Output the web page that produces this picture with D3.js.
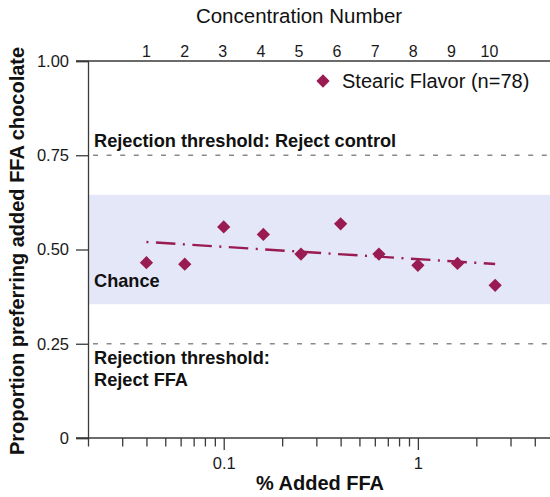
<!DOCTYPE html>
<html>
<head>
<meta charset="utf-8">
<script src="https://cdn.jsdelivr.net/npm/d3@7"></script>
<style>
  body { margin: 0; background: #fff; }
  svg { display: block; font-family: "Liberation Sans", Arial, Helvetica, sans-serif; }
  .axis path, .axis line { stroke: #3a3a3a; stroke-width: 1.3; }
  .axis text { fill: #1a1a1a; }
  .note { font-weight: bold; font-size: 18.2px; fill: #111; }
</style>
</head>
<body>
<svg id="chart" width="550" height="497"></svg>
<script>
// concentration number -> % added FFA (log spaced)
var concNumbers = [1, 2, 3, 4, 5, 6, 7, 8, 9, 10];
var addedFFA = [0.04, 0.063, 0.1, 0.16, 0.25, 0.4, 0.63, 1, 1.6, 2.5];
var proportion = [0.465, 0.461, 0.560, 0.540, 0.488, 0.568, 0.488, 0.458, 0.463, 0.405];
var trendEnds = [[0.04, 0.520], [2.5, 0.4615]];
var chanceBand = [0.355, 0.645];
var thresholds = [0.75, 0.25];
var yTicks = [0, 0.25, 0.5, 0.75, 1];
var xMinorTicks = [0.02, 0.03, 0.04, 0.05, 0.06, 0.07, 0.08, 0.09,
                   0.1, 0.2, 0.3, 0.4, 0.5, 0.6, 0.7, 0.8, 0.9, 1, 2, 3, 4];
var xMajorTicks = [0.1, 1];
var seriesName = 'Stearic Flavor (n=78)';
var markColor = '#991b52';

var svg = d3.select('#chart'),
    plotLeft = 88, plotRight = 550, plotTop = 61, plotBottom = 438;

var x = d3.scaleLog().domain([0.02, 5]).range([plotLeft, 553.6]);
var y = d3.scaleLinear().domain([0, 1]).range([plotBottom, plotTop]);
var xTop = d3.scaleLinear().domain([1, 10]).range([146, 489]);

// chance band
svg.append('rect')
  .attr('x', plotLeft)
  .attr('y', y(chanceBand[1]))
  .attr('width', plotRight - plotLeft)
  .attr('height', y(chanceBand[0]) - y(chanceBand[1]))
  .attr('fill', '#e4e7f7');

// rejection thresholds
svg.selectAll('.threshold')
  .data(thresholds)
  .enter().append('line')
    .attr('class', 'threshold')
    .attr('x1', plotLeft + 5)
    .attr('x2', plotRight)
    .attr('y1', y)
    .attr('y2', y)
    .attr('stroke', '#8a8a8a')
    .attr('stroke-width', 1.6)
    .attr('stroke-dasharray', '5,8.6');

// left axis
var yAxis = svg.append('g')
  .attr('class', 'axis')
  .attr('transform', 'translate(' + plotLeft + ',0)')
  .call(d3.axisLeft(y)
    .tickValues(yTicks)
    .tickSize(12)
    .tickPadding(7)
    .tickFormat(function(d) { return d === 0 ? '0' : d3.format('.2f')(d); }));
yAxis.selectAll('text').style('font-size', '16.5px');

// bottom axis
var xAxis = svg.append('g')
  .attr('class', 'axis')
  .attr('transform', 'translate(0,' + plotBottom + ')')
  .call(d3.axisBottom(x)
    .tickValues(xMinorTicks)
    .tickSize(8.5)
    .tickPadding(8)
    .tickSizeOuter(0)
    .tickFormat(function(d) { return xMajorTicks.indexOf(d) >= 0 ? d3.format('~g')(d) : ''; }));
xAxis.selectAll('.tick')
  .filter(function(d) { return xMajorTicks.indexOf(d) >= 0; })
  .select('line').attr('y2', 12);
xAxis.selectAll('text').style('font-size', '16.5px').attr('dy', '0.85em');
xAxis.select('.domain').attr('d', 'M' + (plotLeft - 12) + ',0H' + plotRight);

// top axis (concentration number)
var topAxis = svg.append('g')
  .attr('class', 'axis')
  .attr('transform', 'translate(0,' + plotTop + ')')
  .call(d3.axisTop(xTop).tickValues(concNumbers).tickSize(0).tickPadding(4));
topAxis.selectAll('text').style('font-size', '16px');
topAxis.select('.domain').attr('d', 'M' + (plotLeft - 12) + ',0H' + plotRight);

// trend line
svg.append('path')
  .datum(trendEnds)
  .attr('d', d3.line()
    .x(function(d) { return x(d[0]); })
    .y(function(d) { return y(d[1]); }))
  .attr('fill', 'none')
  .attr('stroke', markColor)
  .attr('stroke-width', 2.4)
  .attr('stroke-dasharray', '2,7.5,19.5,7.5');

// data points
var diamond = d3.symbol().type(d3.symbolSquare).size(88);
svg.selectAll('.pt')
  .data(addedFFA)
  .enter().append('path')
    .attr('class', 'pt')
    .attr('d', diamond)
    .attr('transform', function(d, i) {
      return 'translate(' + x(d) + ',' + y(proportion[i]) + ') rotate(45)';
    })
    .attr('fill', markColor);

// legend
var legend = svg.append('g').attr('transform', 'translate(323,81)');
legend.append('path')
  .attr('d', diamond)
  .attr('transform', 'rotate(45)')
  .attr('fill', markColor);
legend.append('text')
  .attr('x', 19)
  .attr('y', 6.5)
  .style('font-size', '20px')
  .attr('fill', '#111')
  .text(seriesName);

// notes
svg.append('text').attr('class', 'note').attr('x', 94).attr('y', 147)
  .text('Rejection threshold: Reject control');
svg.append('text').attr('class', 'note').attr('x', 94).attr('y', 287)
  .text('Chance');
var rejectFFA = svg.append('text').attr('class', 'note').attr('x', 94).attr('y', 364);
rejectFFA.append('tspan').attr('x', 94).text('Rejection threshold:');
rejectFFA.append('tspan').attr('x', 94).attr('dy', 22).text('Reject FFA');

// titles
svg.append('text')
  .attr('x', 299).attr('y', 23)
  .attr('text-anchor', 'middle')
  .style('font-size', '20.5px')
  .attr('fill', '#111')
  .text('Concentration Number');
svg.append('text')
  .attr('x', 320).attr('y', 490)
  .attr('text-anchor', 'middle')
  .style('font-size', '20px')
  .style('font-weight', 'bold')
  .attr('fill', '#111')
  .text('% Added FFA');
svg.append('text')
  .attr('transform', 'translate(24,251) rotate(-90)')
  .attr('text-anchor', 'middle')
  .style('font-size', '20px')
  .style('font-weight', 'bold')
  .attr('fill', '#111')
  .text('Proportion preferring added FFA chocolate');
</script>
</body>
</html>
